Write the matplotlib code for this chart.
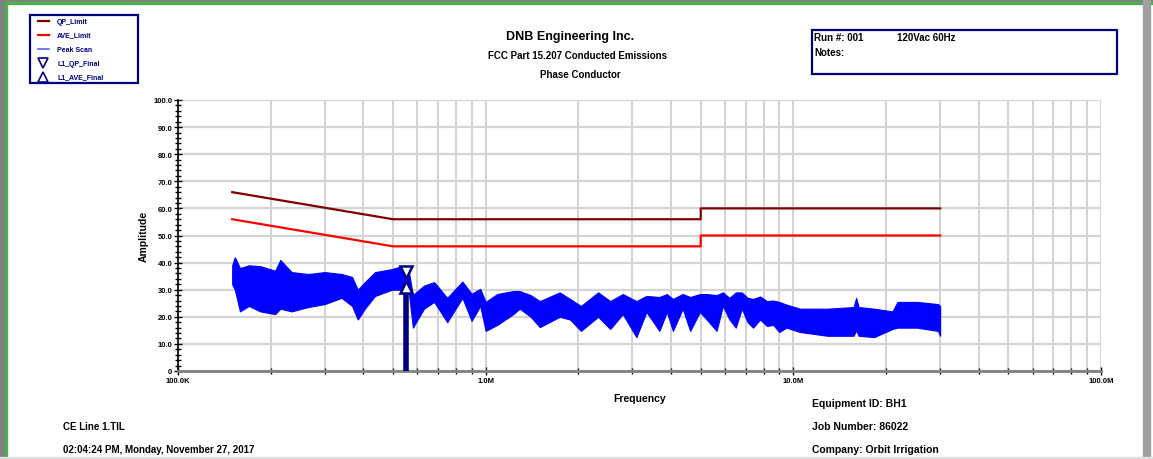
import matplotlib.pyplot as plt
import numpy as np
from matplotlib.patches import Rectangle
from matplotlib.lines import Line2D
from matplotlib.ticker import FixedLocator, LogLocator, NullFormatter

plt.rcParams['font.family'] = ['Liberation Sans', 'DejaVu Sans']
plt.rcParams['font.weight'] = 'bold'
plt.rcParams['axes.labelweight'] = 'bold'

# Limit lines (MHz, dBuV)
qp_freq = [0.15, 0.5, 5.0, 5.0, 30.0]
qp_level = [66, 56, 56, 60, 60]
ave_freq = [0.15, 0.5, 5.0, 5.0, 30.0]
ave_level = [56, 46, 46, 50, 50]

# Peak scan envelope (MHz, upper dB, lower dB)
scan_freq = [0.150, 0.153, 0.159, 0.170, 0.185, 0.207, 0.215, 0.234, 0.265, 0.30,
             0.34, 0.368, 0.384, 0.405, 0.437, 0.496, 0.534, 0.56, 0.58, 0.63,
             0.68, 0.75, 0.84, 0.90, 0.96, 1.0, 1.09, 1.23, 1.29, 1.40,
             1.50, 1.74, 1.88, 2.04, 2.32, 2.54, 2.79, 3.09, 3.33, 3.67,
             3.88, 4.06, 4.37, 4.62, 4.97, 5.23, 5.63, 5.90, 6.2, 6.5,
             6.8, 7.1, 7.4, 7.8, 8.2, 8.6, 9.0, 9.5, 10.5, 12.9,
             15.7, 16.0, 16.3, 18.3, 21.0, 21.8, 25.2, 29.5, 30.0]
scan_upper = [39, 42, 38, 39, 38.7, 37, 41, 36.5, 35.8, 36.5,
              35.8, 34.7, 30, 32.8, 36.5, 37.6, 38.7, 38, 28, 31.5,
              32.8, 27, 33, 28.5, 30.3, 25.5, 28.4, 29.5, 29.5, 28,
              25.8, 29, 26.6, 24, 29, 25.8, 28.4, 25.8, 27.7, 27.3,
              28.4, 26.6, 28.4, 27.3, 28.4, 28.4, 28, 29, 27, 29,
              29, 27, 26.6, 27.5, 25.8, 26, 25.5, 24.5, 23, 23,
              23.6, 27, 23.6, 23, 22, 25.5, 25.5, 24.7, 24]
scan_lower = [32, 30, 22, 24, 22, 21, 23, 22, 23.6, 24.7,
              27, 24, 19, 23, 27.7, 30, 30, 31, 16, 23,
              25.5, 18, 27, 18.5, 24, 14.8, 17, 21, 23, 20,
              16.2, 20, 19, 14.8, 20, 15.5, 21, 12.5, 21.8, 14.8,
              21.8, 14.8, 23, 14.8, 21.8, 19, 14.8, 24, 19, 16,
              23, 18, 16, 19, 16.6, 17, 14.4, 16, 14.4, 13,
              13, 15, 13, 12.5, 15.5, 16, 16, 14.8, 13]

# Final measurements
final_freq = [0.551]
qp_final = [36.5]
ave_final = [31.0]

W, H = 1153, 460
fig = plt.figure(figsize=(W / 100, H / 100), dpi=100)

def fx(x):
    return x / W

def fy(y):
    return 1 - y / H

ax = fig.add_axes([fx(178), fy(372), (1101 - 178) / W, (372 - 101) / H])

# Axes and grid
ax.set_xscale('log')
ax.set_xlim(0.1, 100)
ax.set_ylim(0, 100)
ax.xaxis.set_minor_locator(LogLocator(base=10, subs=np.arange(2, 10), numticks=20))
ax.xaxis.set_minor_formatter(NullFormatter())
ax.set_xticks([0.1, 1, 10, 100])
ax.set_xticklabels(['100.0K', '1.0M', '10.0M', '100.0M'])
ax.yaxis.set_major_locator(FixedLocator(np.arange(0, 101, 10)))
ax.yaxis.set_minor_locator(FixedLocator(np.arange(0, 101, 2)))
ax.set_yticklabels(['0'] + ['%.1f' % v for v in np.arange(10, 101, 10)])
ax.grid(True, which='both', axis='x', color='#cfcfcf', lw=1.3)
ax.grid(True, which='major', axis='y', color='#d4d4d4', lw=1.6)
ax.set_axisbelow(True)

for s in ['top', 'right']:
    ax.spines[s].set_visible(False)
ax.spines['left'].set_color('black')
ax.spines['left'].set_linewidth(1.2)
ax.spines['bottom'].set_color('#808080')
ax.spines['bottom'].set_linewidth(2)
ax.tick_params(axis='both', which='major', direction='inout', length=6, width=1,
               labelsize=5.5, pad=1, colors='black')
ax.tick_params(axis='both', which='minor', direction='inout', length=4, width=1)

# Data
ax.fill_between(scan_freq, scan_lower, scan_upper, color='#0000ff', lw=0.8,
                edgecolor='#0000ff', zorder=3)
ax.plot(qp_freq, qp_level, color='#800000', lw=1.6, zorder=4)
ax.plot(ave_freq, ave_level, color='#ff0000', lw=1.6, zorder=4)
ax.vlines(final_freq, 0, ave_final, color='#000080', lw=4, zorder=5)
ax.plot(final_freq, qp_final, 'v', ms=9, mfc='white', mec='#000080', mew=1.8, zorder=6)
ax.plot(final_freq, ave_final, '^', ms=9, mfc='white', mec='#000080', mew=1.8, zorder=6)

ax.set_xlabel('Frequency', fontsize=7.5, labelpad=7)
ax.set_ylabel('Amplitude', fontsize=7.5, labelpad=3)

# Titles
fig.text(fx(570), fy(37), 'DNB Engineering Inc.', ha='center', va='center', fontsize=9)
fig.text(fx(577), fy(56), 'FCC Part 15.207 Conducted Emissions', ha='center', va='center', fontsize=7)
fig.text(fx(580), fy(75), 'Phase Conductor', ha='center', va='center', fontsize=7)

# Run box
fig.patches.append(Rectangle((fx(812), fy(75)), (1117 - 812) / W, (75 - 31) / H,
                             transform=fig.transFigure, fill=False, ec='#000080', lw=1.6))
fig.text(fx(814), fy(38), 'Run #: 001', va='center', fontsize=7)
fig.text(fx(897), fy(38), '120Vac 60Hz', va='center', fontsize=7)
fig.text(fx(814), fy(53), 'Notes:', va='center', fontsize=7)

# Legend box
fig.patches.append(Rectangle((fx(30), fy(84)), (138 - 30) / W, (84 - 16) / H,
                             transform=fig.transFigure, fill=False, ec='#000080', lw=1.6))
legend_names = ['QP_Limit', 'AVE_Limit', 'Peak Scan', 'L1_QP_Final', 'L1_AVE_Final']
legend_y = [22, 36, 50, 64, 78]
for name, yy in zip(legend_names, legend_y):
    fig.text(fx(57), fy(yy), name, va='center', fontsize=5, color='#000080')
fig.lines.append(Line2D([fx(38), fx(49)], [fy(22)] * 2, color='#800000', lw=1.6, transform=fig.transFigure))
fig.lines.append(Line2D([fx(38), fx(49)], [fy(36)] * 2, color='#ff0000', lw=1.6, transform=fig.transFigure))
fig.lines.append(Line2D([fx(38), fx(49)], [fy(50)] * 2, color='#6060ff', lw=1.2, transform=fig.transFigure))
fig.lines.append(Line2D([fx(43)], [fy(64)], marker='v', ms=7, mfc='white', mec='#000080', mew=1.2,
                        transform=fig.transFigure))
fig.lines.append(Line2D([fx(43)], [fy(78)], marker='^', ms=7, mfc='white', mec='#000080', mew=1.2,
                        transform=fig.transFigure))

# Footer text
fig.text(fx(63), fy(427), 'CE Line 1.TIL', va='center', fontsize=7)
fig.text(fx(63), fy(450), '02:04:24 PM, Monday, November 27, 2017', va='center', fontsize=7)
fig.text(fx(812), fy(404), 'Equipment ID: BH1', va='center', fontsize=7.5)
fig.text(fx(812), fy(427), 'Job Number: 86022', va='center', fontsize=7.5)
fig.text(fx(812), fy(450), 'Company: Orbit Irrigation', va='center', fontsize=7.5)

# Window frame
fig.patches.append(Rectangle((0, 0), fx(5), 1, transform=fig.transFigure, color='#808080'))
fig.patches.append(Rectangle((fx(5), 0), fx(2), 1, transform=fig.transFigure, color='#4caf50'))
fig.patches.append(Rectangle((0, fy(3)), 1, 3 / H, transform=fig.transFigure, color='#808080'))
fig.patches.append(Rectangle((fx(5), fy(5)), 1, 2 / H, transform=fig.transFigure, color='#4caf50'))
fig.patches.append(Rectangle((fx(1143), 0), 7 / W, 1, transform=fig.transFigure, color='#a0a0a0'))
fig.patches.append(Rectangle((0, 0), 1, 2 / H, transform=fig.transFigure, color='#e0e0e0'))

fig.savefig('out.png', dpi=100)
